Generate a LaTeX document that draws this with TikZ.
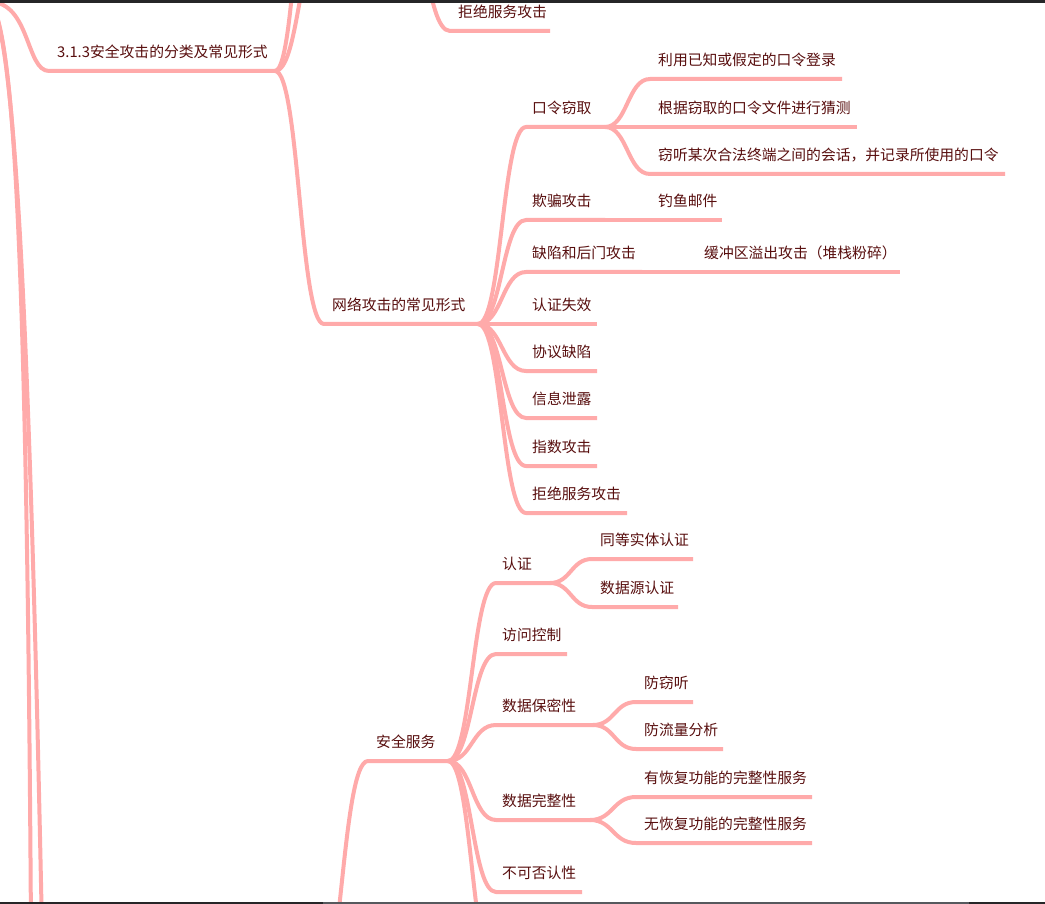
\documentclass[tikz,border=0pt]{standalone}
\usepackage{fontspec}
\setmainfont{Noto Sans CJK SC}
\usetikzlibrary{calc,positioning}
\definecolor{branchpink}{RGB}{255,170,170}
\definecolor{topictext}{RGB}{88,14,14}
\definecolor{bardark}{RGB}{38,38,40}
\definecolor{barthumb}{RGB}{86,89,93}

\begin{document}
\begin{tikzpicture}[
      x=1pt, y=-1pt,
      topic/.style={anchor=base west, inner sep=0pt, text=topictext, font=\fontsize{14.8}{18}\selectfont},
      branch/.style={draw=branchpink, line width=4pt, line join=round},
      link/.style={to path={.. controls ($(\tikztostart)!.5!(\tikztostart -| \tikztotarget)$) and ($(\tikztotarget)!.5!(\tikztotarget -| \tikztostart)$) .. (\tikztotarget) \tikztonodes}}
      ]
      \useasboundingbox (0,0) rectangle (1045,904);
      \fill[white] (0,0) rectangle (1045,904);
      \begin{scope}
      \clip (0,0) rectangle (1045,904);

      % Coordinates
      \coordinate (root) at (-10,2);
      \coordinate (next-a) at (31,930);
      \coordinate (next-b) at (42,930);
      \coordinate (fl-s) at (49,71);
      \coordinate (fl-j) at (275,71);
      \coordinate (up-a) at (323,-60);
      \coordinate (up-b) at (323,-260);
      \coordinate (top-j) at (400,-100);
      \coordinate (jf0-s) at (450,31);
      \coordinate (jf0-e) at (550,31);

      \coordinate (wl-s) at (324,324);
      \coordinate (wl-j) at (478,324);
      \coordinate (kl-s) at (526,127);
      \coordinate (kl-j) at (605,127);
      \coordinate (ly-s) at (650,79);
      \coordinate (ly-e) at (842,79);
      \coordinate (gj-s) at (650,127);
      \coordinate (gj-e) at (857,127);
      \coordinate (qt-s) at (650,174);
      \coordinate (qt-e) at (1005,174);
      \coordinate (qp-s) at (526,220);
      \coordinate (qp-j) at (605,220);
      \coordinate (dy-s) at (650,220);
      \coordinate (dy-e) at (722,220);
      \coordinate (qx-s) at (526,272);
      \coordinate (qx-j) at (642,272);
      \coordinate (hc-s) at (696,272);
      \coordinate (hc-e) at (900,272);
      \coordinate (rz-s) at (526,324);
      \coordinate (rz-e) at (597,324);
      \coordinate (xy-s) at (526,371);
      \coordinate (xy-e) at (597,371);
      \coordinate (xx-s) at (526,418);
      \coordinate (xx-e) at (597,418);
      \coordinate (zs-s) at (526,466);
      \coordinate (zs-e) at (597,466);
      \coordinate (jj-s) at (526,513);
      \coordinate (jj-e) at (627,513);

      \coordinate (sm-p) at (315,1010);
      \coordinate (fw-s) at (368,761);
      \coordinate (fw-j) at (448,761);
      \coordinate (rzh-s) at (496,583);
      \coordinate (rzh-j) at (550,583);
      \coordinate (td-s) at (592,559);
      \coordinate (td-e) at (693,559);
      \coordinate (sy-s) at (592,607);
      \coordinate (sy-e) at (678,607);
      \coordinate (fk-s) at (496,654);
      \coordinate (fk-e) at (567,654);
      \coordinate (bm-s) at (496,725);
      \coordinate (bm-j) at (593,725);
      \coordinate (fq-s) at (636,702);
      \coordinate (fq-e) at (693,702);
      \coordinate (ll-s) at (636,749);
      \coordinate (ll-e) at (723,749);
      \coordinate (wz-s) at (496,820);
      \coordinate (wz-j) at (590,820);
      \coordinate (yh-s) at (636,797);
      \coordinate (yh-e) at (812,797);
      \coordinate (wh-s) at (636,843);
      \coordinate (wh-e) at (812,843);
      \coordinate (bk-s) at (496,892);
      \coordinate (bk-e) at (582,892);
      \coordinate (fw-next) at (496,975);

      % Nodes
      \node (fl) [topic] at (57,57.5) {3.1.3安全攻击的分类及常见形式};
      \node (jf0) [topic] at (458,17.5) {拒绝服务攻击};
      \node (wl) [topic] at (332,310.5) {网络攻击的常见形式};
      \node (kl) [topic] at (532,113.5) {口令窃取};
      \node (ly) [topic] at (658,65.5) {利用已知或假定的口令登录};
      \node (gj) [topic] at (658,113.5) {根据窃取的口令文件进行猜测};
      \node (qt) [topic] at (658,160.5) {窃听某次合法终端之间的会话，并记录所使用的口令};
      \node (qp) [topic] at (532,206.5) {欺骗攻击};
      \node (dy) [topic] at (658,206.5) {钓鱼邮件};
      \node (qx) [topic] at (532,258.5) {缺陷和后门攻击};
      \node (hc) [topic] at (704,258.5) {缓冲区溢出攻击（堆栈粉碎）};
      \node (rz) [topic] at (532,310.5) {认证失效};
      \node (xy) [topic] at (532,357.5) {协议缺陷};
      \node (xx) [topic] at (532,404.5) {信息泄露};
      \node (zs) [topic] at (532,452.5) {指数攻击};
      \node (jj) [topic] at (532,499.5) {拒绝服务攻击};

      \node (fw) [topic] at (376,747.5) {安全服务};
      \node (rzh) [topic] at (502,569.5) {认证};
      \node (td) [topic] at (600,545.5) {同等实体认证};
      \node (sy) [topic] at (600,593.5) {数据源认证};
      \node (fk) [topic] at (502,640.5) {访问控制};
      \node (bm) [topic] at (502,711.5) {数据保密性};
      \node (fq) [topic] at (644,688.5) {防窃听};
      \node (ll) [topic] at (644,735.5) {防流量分析};
      \node (wz) [topic] at (502,806.5) {数据完整性};
      \node (yh) [topic] at (644,783.5) {有恢复功能的完整性服务};
      \node (wh) [topic] at (644,829.5) {无恢复功能的完整性服务};
      \node (bk) [topic] at (502,878.5) {不可否认性};

      % Branches
      \draw [branch] (root) .. controls (30,2) and (26,71) .. (fl-s) -- (fl-j);
      \draw [branch] (root) .. controls (16,30) and (27,300) .. (next-a);
      \draw [branch] (root) .. controls (16,30) and (30,350) .. (next-b);
      \draw [branch] (fl-j) to[link] (up-a);
      \draw [branch] (fl-j) to[link] (up-b);
      \draw [branch] (top-j) to[link] (jf0-s) -- (jf0-e);
      \draw [branch] (fl-j) to[link] (wl-s) -- (wl-j);

      \draw [branch] (wl-j) to[link] (kl-s) -- (kl-j);
      \draw [branch] (kl-j) to[link] (ly-s) -- (ly-e);
      \draw [branch] (kl-j) to[link] (gj-s) -- (gj-e);
      \draw [branch] (kl-j) to[link] (qt-s) -- (qt-e);
      \draw [branch] (wl-j) to[link] (qp-s) -- (qp-j);
      \draw [branch] (qp-j) to[link] (dy-s) -- (dy-e);
      \draw [branch] (wl-j) to[link] (qx-s) -- (qx-j);
      \draw [branch] (qx-j) to[link] (hc-s) -- (hc-e);
      \draw [branch] (wl-j) to[link] (rz-s) -- (rz-e);
      \draw [branch] (wl-j) to[link] (xy-s) -- (xy-e);
      \draw [branch] (wl-j) to[link] (xx-s) -- (xx-e);
      \draw [branch] (wl-j) to[link] (zs-s) -- (zs-e);
      \draw [branch] (wl-j) to[link] (jj-s) -- (jj-e);

      \draw [branch] (sm-p) to[link] (fw-s) -- (fw-j);
      \draw [branch] (fw-j) to[link] (rzh-s) -- (rzh-j);
      \draw [branch] (rzh-j) to[link] (td-s) -- (td-e);
      \draw [branch] (rzh-j) to[link] (sy-s) -- (sy-e);
      \draw [branch] (fw-j) to[link] (fk-s) -- (fk-e);
      \draw [branch] (fw-j) to[link] (bm-s) -- (bm-j);
      \draw [branch] (bm-j) to[link] (fq-s) -- (fq-e);
      \draw [branch] (bm-j) to[link] (ll-s) -- (ll-e);
      \draw [branch] (fw-j) to[link] (wz-s) -- (wz-j);
      \draw [branch] (wz-j) to[link] (yh-s) -- (yh-e);
      \draw [branch] (wz-j) to[link] (wh-s) -- (wh-e);
      \draw [branch] (fw-j) to[link] (bk-s) -- (bk-e);
      \draw [branch] (fw-j) to[link] (fw-next);
      \end{scope}

      % Window bars
      \fill [bardark] (0,0) rectangle (1045,3);
      \fill [bardark] (0,902) rectangle (1045,904);
      \fill [barthumb] (323,902) rectangle (969,904);
    \end{tikzpicture}
\end{document}
